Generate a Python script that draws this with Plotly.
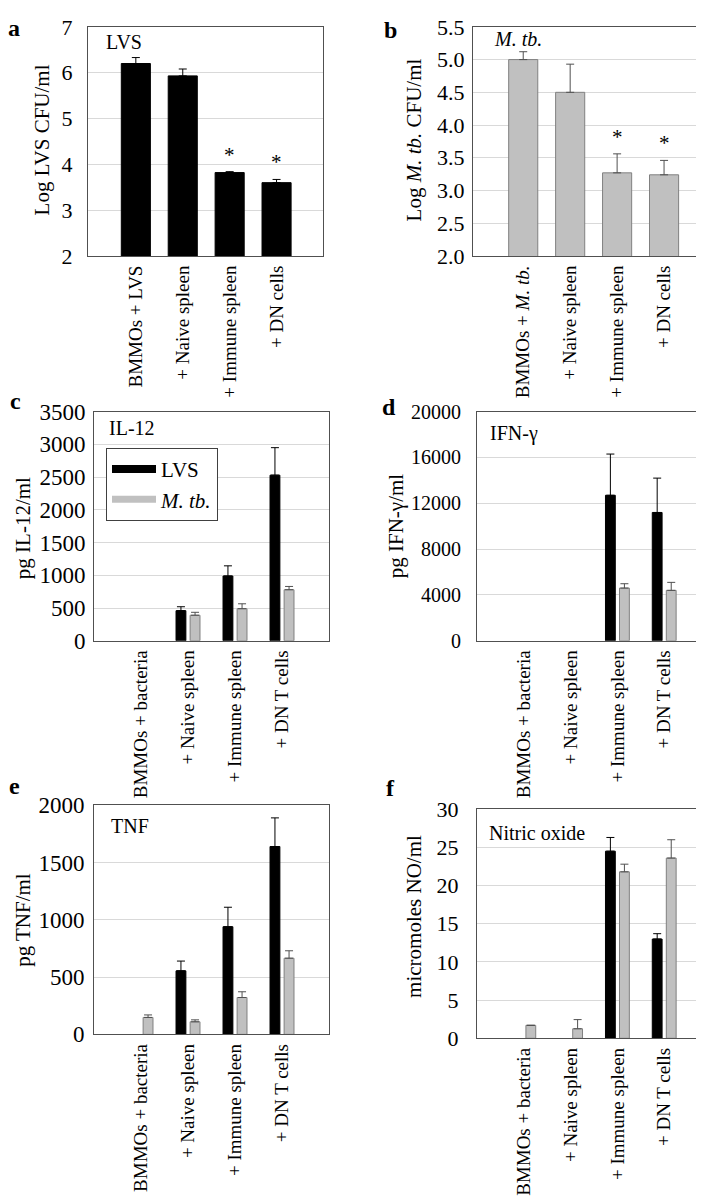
import plotly.graph_objects as go
from plotly.subplots import make_subplots

W, H = 704, 1199

# ---------------- data ----------------
cat_lvs = ["BMMOs + LVS", "+ Naive spleen", "+ Immune spleen", "+ DN cells"]
cat_mtb = ["BMMOs + <i>M. tb.</i>", "+ Naive spleen", "+ Immune spleen", "+ DN cells"]
cat_cyto = ["BMMOs + bacteria", "+ Naive spleen", "+ Immune spleen", "+ DN T cells"]

lvs_cfu = [6.20, 5.93, 3.82, 3.60]
lvs_cfu_err = [0.13, 0.15, 0.02, 0.07]
lvs_cfu_sig = [False, False, True, True]

mtb_cfu = [5.00, 4.50, 3.27, 3.24]
mtb_cfu_err = [0.12, 0.43, 0.29, 0.22]
mtb_cfu_sig = [False, False, True, True]

il12_lvs = [0, 460, 990, 2530]
il12_lvs_err = [0, 60, 155, 420]
il12_mtb = [0, 390, 490, 780]
il12_mtb_err = [0, 45, 75, 50]

ifng_lvs = [0, 0, 12700, 11200]
ifng_lvs_err = [0, 0, 3600, 3000]
ifng_mtb = [0, 0, 4600, 4400]
ifng_mtb_err = [0, 0, 380, 700]

tnf_lvs = [0, 555, 940, 1640]
tnf_lvs_err = [0, 85, 170, 250]
tnf_mtb = [148, 110, 322, 665]
tnf_mtb_err = [22, 17, 50, 65]

no_lvs = [0, 0, 24.5, 13.0]
no_lvs_err = [0, 0, 1.8, 0.7]
no_mtb = [1.7, 1.25, 21.8, 23.6]
no_mtb_err = [0, 1.2, 1.0, 2.4]

# ---------------- style ----------------
FONT = "Liberation Serif"
BLACK = "#000000"
GRAY = "#c0c0c0"
GRAY_LINE = "#808080"
AXIS = "#505050"
GRID = "#d9d9d9"


def px_x(x):
    return x / W


def px_y(y):
    return 1 - y / H


def nz(vals):
    # zero (not detected) values are drawn as empty slots
    return [v if v else None for v in vals]


def err(arr, color):
    return dict(type="data", array=arr, arrayminus=[0] * len(arr), symmetric=False,
                color=color, thickness=1, width=4)


fig = make_subplots(rows=3, cols=2)

# panel a
fig.add_trace(go.Bar(x=cat_lvs, y=lvs_cfu, width=0.62, offset=-0.31,
                     marker=dict(color=BLACK, line=dict(color=BLACK, width=1)),
                     error_y=err(lvs_cfu_err, BLACK), showlegend=False), row=1, col=1)
# panel b
fig.add_trace(go.Bar(x=cat_mtb, y=mtb_cfu, width=0.62, offset=-0.31,
                     marker=dict(color=GRAY, line=dict(color=GRAY_LINE, width=1)),
                     error_y=err(mtb_cfu_err, "#505050"), showlegend=False), row=1, col=2)

pairs = [
    (il12_lvs, il12_lvs_err, il12_mtb, il12_mtb_err, 2, 1),
    (ifng_lvs, ifng_lvs_err, ifng_mtb, ifng_mtb_err, 2, 2),
    (tnf_lvs, tnf_lvs_err, tnf_mtb, tnf_mtb_err, 3, 1),
    (no_lvs, no_lvs_err, no_mtb, no_mtb_err, 3, 2),
]
for lv, lve, mt, mte, r, c in pairs:
    fig.add_trace(go.Bar(x=cat_cyto, y=nz(lv), width=0.21, offset=-0.255,
                         marker=dict(color=BLACK, line=dict(color=BLACK, width=1)),
                         error_y=err(lve, BLACK), showlegend=False), row=r, col=c)
    fig.add_trace(go.Bar(x=cat_cyto, y=nz(mt), width=0.21, offset=0.045,
                         marker=dict(color=GRAY, line=dict(color=GRAY_LINE, width=1)),
                         error_y=err(mte, "#505050"), showlegend=False), row=r, col=c)

# legend entries (panel c)
fig.add_trace(go.Scatter(x=[None], y=[None], mode="lines", name="LVS",
                         line=dict(color=BLACK, width=8)), row=2, col=1)
fig.add_trace(go.Scatter(x=[None], y=[None], mode="lines", name="<i>M. tb.</i>",
                         line=dict(color=GRAY, width=7)), row=2, col=1)

# axes layout: (x0, x1, ytop, ybottom) in pixels, y range, dtick, tickfont size, tickformat, x range
panels = [
    (80, 315, 7, 241, [2, 7], 1, 22, None, [-1.02, 3.99]),
    (465, 703, 7, 241, [2, 5.5], 0.5, 22, ".1f", [-1.07, 4.0]),
    (86, 321, 400, 634, [0, 3500], 500, 23, "d", [-1, 4]),
    (469, 703, 400, 634, [0, 20000], 4000, 20, "d", [-1, 4]),
    (86, 321, 802, 1036, [0, 2000], 500, 23, "d", [-1, 4]),
    (469, 703, 806, 1040, [0, 30], 5, 22, "d", [-1, 4]),
]
standoffs = [10, 3, 3, 11, 4, 13]
for i, (x0, x1, yt, yb, yr, dt, fs, tf, xr) in enumerate(panels):
    n = "" if i == 0 else str(i + 1)
    fig.layout["xaxis" + n].update(
        domain=[px_x(x0), px_x(x1)], range=xr, tickangle=-90,
        showline=True, mirror=True, linecolor=AXIS, linewidth=1,
        showgrid=False, ticks="", ticklabelstandoff=1,
        tickfont=dict(family=FONT, size=19, color="black"),
        fixedrange=True)
    yax = dict(
        domain=[px_y(yb), px_y(yt)], range=yr, dtick=dt, tick0=yr[0],
        showline=True, mirror=True, linecolor=AXIS, linewidth=1,
        showgrid=True, gridcolor=GRID, gridwidth=1, zeroline=False, ticks="",
        ticklabelstandoff=standoffs[i],
        tickfont=dict(family=FONT, size=fs, color="black"))
    if tf:
        yax["tickformat"] = tf
    fig.layout["yaxis" + n].update(**yax)

annotations = []


def ann(text, x, y, size=19, bold=False, xanchor="center", angle=0):
    t = f"<b>{text}</b>" if bold else text
    annotations.append(dict(text=t, x=px_x(x), y=px_y(y), xref="paper", yref="paper",
                            showarrow=False, xanchor=xanchor, yanchor="middle",
                            textangle=angle, font=dict(family=FONT, size=size, color="black")))


# panel letters
for letter, x, y in [("a", 6, 8), ("b", 382, 10), ("c", 7, 389),
                     ("d", 381, 395), ("e", 6, 782), ("f", 382, 784)]:
    ann(letter, x, y, size=24, bold=True)

# y-axis titles
for text, x, y in [("Log LVS CFU/ml", 34, 123), ("Log <i>M. tb.</i> CFU/ml", 406, 123),
                   ("pg IL-12/ml", 15, 519), ("pg IFN-γ/ml", 388, 517),
                   ("pg TNF/ml", 15, 919), ("micromoles NO/ml", 406, 916)]:
    ann(text, x, y, size=21, angle=-90)

# in-plot labels
for text, x, y in [("LVS", 96, 22), ("<i>M. tb.</i>", 484, 19), ("IL-12", 99, 417),
                   ("IFN-γ", 480, 422), ("TNF", 101, 823), ("Nitric oxide", 479, 830)]:
    ann(text, x, y, size=20, xanchor="left")

# significance asterisks
for cats, vals, errs, sig, xr_, yr_ in [(cat_lvs, lvs_cfu, lvs_cfu_err, lvs_cfu_sig, "x", "y"),
                                        (cat_mtb, mtb_cfu, mtb_cfu_err, mtb_cfu_sig, "x2", "y2")]:
    for cname, v, e, s in zip(cats, vals, errs, sig):
        if s:
            annotations.append(dict(text="*", x=cname, y=v + e, xref=xr_, yref=yr_,
                                    showarrow=False, yanchor="bottom", yshift=3,
                                    font=dict(family=FONT, size=21, color="black")))

fig.update_layout(
    width=W, height=H, margin=dict(l=0, r=0, t=0, b=0),
    paper_bgcolor="white", plot_bgcolor="white",
    barmode="overlay",
    font=dict(family=FONT, size=18, color="black"),
    annotations=annotations,
    showlegend=True,
    legend=dict(x=px_x(98), y=px_y(437), xanchor="left", yanchor="top",
                bgcolor="white", bordercolor="#404040", borderwidth=1,
                font=dict(family=FONT, size=21, color="black"),
                itemwidth=44, tracegroupgap=0),
)

fig.write_html("out.html")
